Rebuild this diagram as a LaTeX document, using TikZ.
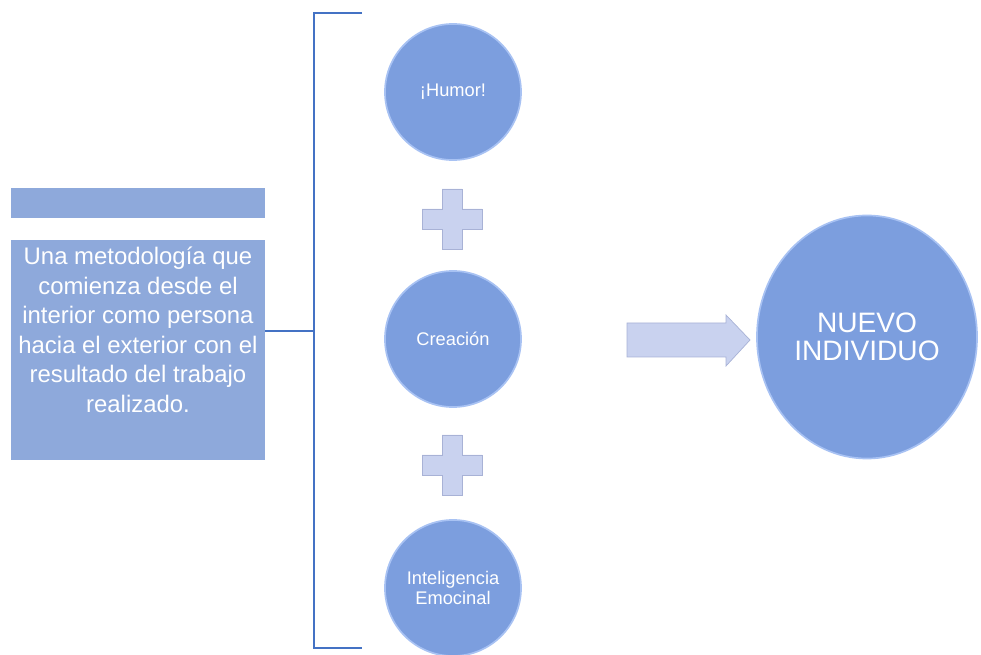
\documentclass[tikz,border=0pt]{standalone}
\usepackage{fontspec}
\setmainfont{Liberation Sans}
\usetikzlibrary{shapes.geometric,positioning}
\definecolor{circblue}{RGB}{124,158,222}
\definecolor{rimblue}{RGB}{168,194,243}
\definecolor{boxblue}{RGB}{142,169,219}
\definecolor{linkblue}{RGB}{68,114,196}
\definecolor{lilac}{RGB}{201,210,239}
\definecolor{lilacedge}{RGB}{168,178,214}
\tikzset{
box/.style = {fill=boxblue, rectangle, inner sep=0pt, minimum width=6.35cm},
txt/.style = {text=white, align=center, inner sep=0pt, font=\fontsize{17}{21}\selectfont},
ball/.style = {fill=circblue, draw=rimblue, line width=1.2pt, circle, inner sep=0pt,
  minimum size=3.4cm, text=white, align=center, font=\fontsize{13}{14}\selectfont},
bigball/.style = {ball, ellipse, minimum width=5.5cm, minimum height=6.075cm,
  font=\fontsize{20}{20}\selectfont},
bracket/.style = {draw=linkblue, line width=0.9pt},
plusbox/.style = {fill=lilac, draw=lilacedge, line width=0.5pt},
tmp/.style = {coordinate}
}

\begin{document}
\begin{tikzpicture}[x=0.025cm, y=-0.025cm]
    \useasboundingbox (0,0) rectangle (981,655);
    % We start by placing the blocks
    \node [box, minimum height=0.75cm] (head) at (138,203) {};
    \node [box, minimum height=5.5cm] (descbox) at (138,350) {};
    \node [txt] (desc) at (138,330) {Una metodología que\\comienza desde el\\interior como persona\\hacia el exterior con el\\resultado del trabajo\\realizado.};
    \node [ball] (humor) at (453,92) {¡Humor!};
    \node [ball] (crea) at (453,339) {Creación};
    \node [ball] (intel) at (453,588) {Inteligencia\\Emocinal};
    \node [bigball] (nuevo) at (867,337) {NUEVO\\INDIVIDUO};
    \node [tmp] (plus1) at (452,219) {};
    \node [tmp] (plus2) at (452,465) {};
    \node [tmp] (bmid) at (314,331) {};
    \node [tmp] (btop) at (362,13) {};
    \node [tmp] (bbot) at (362,648) {};

    % the bracket and its link to the text
    \draw [bracket] (btop) -- (btop -| bmid) -- (bbot -| bmid) -- (bbot);
    \draw [bracket] (bmid -| descbox.east) -- (bmid);

    % plus signs and the block arrow
    \foreach \p in {plus1,plus2}
      \draw [plusbox, shift={(\p)}] (-10,-30) -- (10,-30) -- (10,-10) -- (30,-10)
        -- (30,10) -- (10,10) -- (10,30) -- (-10,30) -- (-10,10) -- (-30,10)
        -- (-30,-10) -- (-10,-10) -- cycle;
    \draw [plusbox] (627,323) -- (726,323) -- (726,315) -- (750,340)
      -- (726,366) -- (726,357) -- (627,357) -- cycle;
\end{tikzpicture}
\end{document}
